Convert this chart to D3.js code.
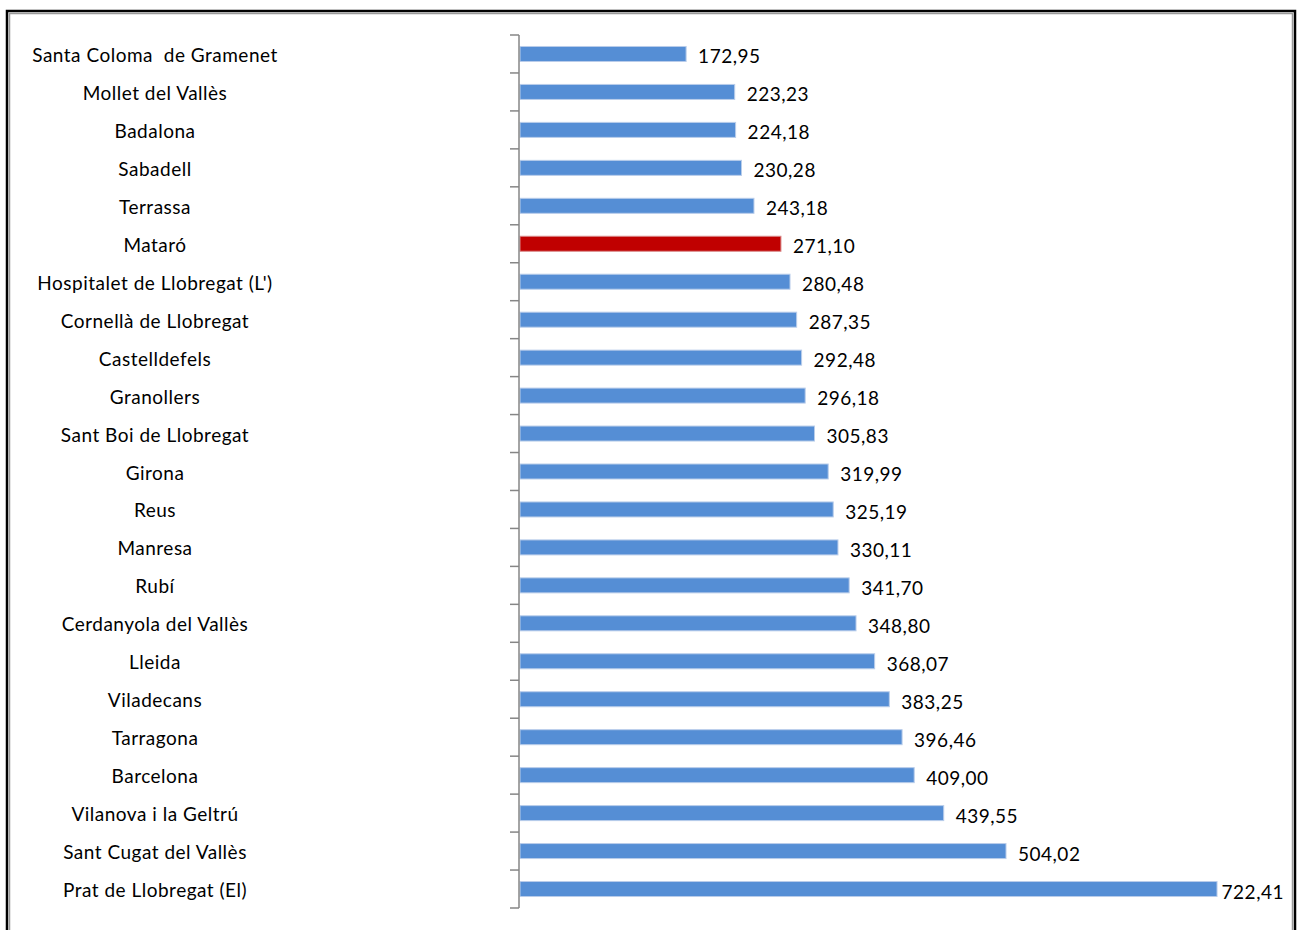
<!DOCTYPE html>
<html><head><meta charset="utf-8">
<script src="https://cdn.jsdelivr.net/npm/d3@7/dist/d3.min.js"></script>
<style>body{margin:0;background:#fff}svg{display:block}</style>
</head><body>
<svg id="chart" width="1297" height="930"></svg>
<script>
const categories = ["Santa Coloma  de Gramenet","Mollet del Vallès","Badalona","Sabadell","Terrassa","Mataró","Hospitalet de Llobregat (L')","Cornellà de Llobregat","Castelldefels","Granollers","Sant Boi de Llobregat","Girona","Reus","Manresa","Rubí","Cerdanyola del Vallès","Lleida","Viladecans","Tarragona","Barcelona","Vilanova i la Geltrú","Sant Cugat del Vallès","Prat de Llobregat (El)"];
const values = [172.95,223.23,224.18,230.28,243.18,271.10,280.48,287.35,292.48,296.18,305.83,319.99,325.19,330.11,341.70,348.80,368.07,383.25,396.46,409.00,439.55,504.02,722.41];
const highlight = ["Mataró"];

(function(){
const svg = d3.select("#chart");
// frame
svg.append("rect").attr("x",7).attr("y",11).attr("width",1288).attr("height",940)
  .attr("fill","none").attr("stroke","#000").attr("stroke-width",2.5);
svg.append("rect").attr("x",9.5).attr("y",13.5).attr("width",1283).attr("height",940)
  .attr("fill","none").attr("stroke","#999").attr("stroke-width",1.5);

const x0 = 519, plotTop = 35, plotBottom = 908, plotRight = 1284;
const x = d3.scaleLinear().domain([0,800]).range([x0,1292]);
const yb = d3.scaleBand().domain(categories).range([plotTop,plotBottom]);

// bars
svg.append("g").selectAll("rect").data(categories).join("rect")
  .attr("x", x(0)+1)
  .attr("y", d=>yb(d)+yb.bandwidth()/2-7.5)
  .attr("width", (d,i)=>x(values[i])-x(0)-1)
  .attr("height", 15)
  .attr("fill", d=>highlight.includes(d)?"#C00000":"#558ED5")
  .attr("stroke", d=>highlight.includes(d)?"#d98a8a":"#b9cdea")
  .attr("stroke-width",1);

// axis
const ticks = categories.map(d=>yb(d)).concat([plotBottom]);
const ag = svg.append("g");
ag.append("line").attr("x1",x0).attr("x2",x0).attr("y1",plotTop).attr("y2",plotBottom)
  .attr("stroke","#868686").attr("stroke-width",1.5);
ag.selectAll("line.t").data(ticks).join("line").attr("class","t")
  .attr("x1",x0-9).attr("x2",x0).attr("y1",d=>d).attr("y2",d=>d)
  .attr("stroke","#868686").attr("stroke-width",1.5);

const font = "Lato, 'Open Sans', sans-serif";
// category labels
svg.append("g").selectAll("text").data(categories).join("text")
  .attr("x",155).attr("y",d=>yb(d)+yb.bandwidth()/2+8)
  .attr("text-anchor","middle")
  .style("font-family",font).style("font-size","19px").style("letter-spacing","0.5px")
  .style("white-space","pre").attr("fill","#000")
  .text(d=>d);

// value labels
const fmt = v=>v.toFixed(2).replace(".",",");
svg.append("g").selectAll("text").data(categories).join("text")
  .attr("y",d=>yb(d)+yb.bandwidth()/2+9.5)
  .style("font-family",font).style("font-size","19px").style("letter-spacing","0.5px")
  .attr("fill","#000")
  .text((d,i)=>fmt(values[i]))
  .attr("x",function(d,i){
    const w = this.getComputedTextLength();
    return Math.min(x(values[i])+12, plotRight - w);
  });
})();
</script>
</body></html>
